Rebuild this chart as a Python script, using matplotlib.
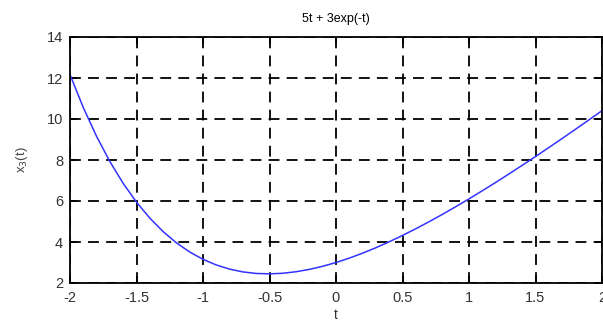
import matplotlib
matplotlib.use("Agg")
import matplotlib.pyplot as plt

t = [-2.0, -1.9, -1.8, -1.7, -1.6, -1.5, -1.4, -1.3, -1.2, -1.1, -1.0,
     -0.9, -0.8, -0.7, -0.6, -0.5, -0.4, -0.3, -0.2, -0.1, 0.0,
     0.1, 0.2, 0.3, 0.4, 0.5, 0.6, 0.7, 0.8, 0.9, 1.0,
     1.1, 1.2, 1.3, 1.4, 1.5, 1.6, 1.7, 1.8, 1.9, 2.0]
x3 = [12.167, 10.558, 9.149, 7.922, 6.859, 5.945, 5.166, 4.508, 3.960, 3.512, 3.155,
      2.879, 2.677, 2.541, 2.466, 2.446, 2.475, 2.550, 2.664, 2.816, 3.000,
      3.214, 3.456, 3.722, 4.011, 4.320, 4.646, 4.990, 5.348, 5.720, 6.104,
      6.499, 6.904, 7.318, 7.740, 8.169, 8.606, 9.048, 9.496, 9.949, 10.406]
xticks = [-2, -1.5, -1, -0.5, 0, 0.5, 1, 1.5, 2]
xticklabels = ["-2", "-1.5", "-1", "-0.5", "0", "0.5", "1", "1.5", "2"]
yticks = [2, 4, 6, 8, 10, 12, 14]
title = "5t + 3exp(-t)"

plt.rcParams['font.family'] = ['Liberation Sans', 'DejaVu Sans']
fig = plt.figure(figsize=(6.03, 3.25), dpi=100)
ax = fig.add_axes([70/603, 1-283/325, 532/603, (283-37)/325])
ax.plot(t, x3, color='#3333ff', lw=1.1)
ax.set_xlim(-2, 2)
ax.set_ylim(2, 14)
ax.set_xticks(xticks)
ax.set_xticklabels(xticklabels)
ax.set_yticks(yticks)
ax.grid(True, color='black', linestyle=(0, (6, 4)), linewidth=1.3)
ax.tick_params(direction='in', top=True, right=True, length=5, labelsize=10.5,
               labelcolor='#333333', width=1.2)
ax.tick_params(axis='x', pad=6)
ax.tick_params(axis='y', pad=5)
for s in ax.spines.values():
    s.set_linewidth(1.3)
ax.set_xlabel('t', fontsize=10, labelpad=2, color='#333333')
ax.set_ylabel(r'x$_3$(t)', fontsize=9.5, labelpad=12, color='#444444')
ax.set_title(title, fontsize=9, pad=11)
fig.savefig('out.png', dpi=100)
